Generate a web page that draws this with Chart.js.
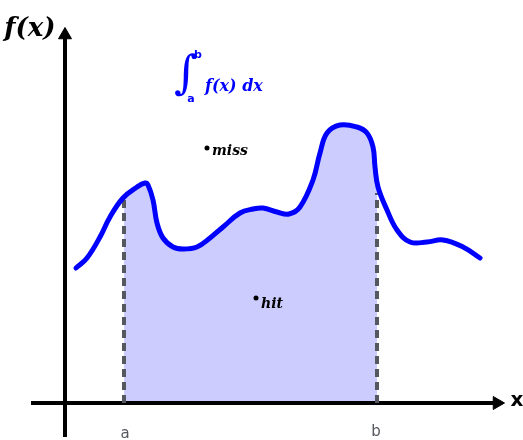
<!DOCTYPE html>
<html>
<head>
<meta charset="utf-8">
<script src="https://cdn.jsdelivr.net/npm/chart.js@4.4.1/dist/chart.umd.min.js"></script>
<style>
  html, body { margin:0; padding:0; background:#fff; }
  #wrap { width:523px; height:440px; position:relative; }
</style>
</head>
<body>
<div id="wrap"><canvas id="mc"></canvas></div>
<script>
// f(x) sampled along the curve (x from the y axis, y up from the x axis)
const curveX = [11, 22, 35, 45, 58, 72, 80, 83, 88, 92, 98, 108, 118, 132, 145, 158, 175, 188, 198, 212, 224, 235, 248, 255, 262, 275, 292, 302, 308, 310, 313, 322, 332, 345, 362, 378, 398, 415];
const curveY = [135, 145, 166, 186, 205, 216, 220, 218, 203, 180, 165, 156, 154, 156, 165, 176, 190, 194, 195, 191, 189, 196, 223, 250, 270, 278, 276, 270, 256, 236, 216, 193, 173, 161, 161, 163, 156, 145];

// integration bounds and f at the bounds
const boundA = 59, boundB = 312;
const fA = 206, fB = 210;

// axis extents
const xAxisFrom = -34, xAxisTo = 428;
const yAxisFrom = -34, yAxisTo = 364;

// sample points
const missPt = { x: 142, y: 255 };
const hitPt = { x: 191, y: 105 };

const BLUE = "#0000ff";
const SHADE = "#ccccff";
const DASH = "#55585e";

const curve = curveX.map((x, i) => ({ x, y: curveY[i] }));

// horizontal gradient with hard stops so only [a, b] gets shaded
function shadeBetween(ctx){
  const chart = ctx.chart;
  const xs = chart.scales.x;
  if(!xs || !chart.chartArea) return "rgba(0,0,0,0)";
  const w = xs.right - xs.left;
  const pa = (xs.getPixelForValue(boundA) - xs.left) / w;
  const pb = (xs.getPixelForValue(boundB) - xs.left) / w;
  const g = chart.ctx.createLinearGradient(xs.left, 0, xs.right, 0);
  g.addColorStop(0, "rgba(204,204,255,0)");
  g.addColorStop(pa, "rgba(204,204,255,0)");
  g.addColorStop(pa, SHADE);
  g.addColorStop(pb, SHADE);
  g.addColorStop(pb, "rgba(204,204,255,0)");
  g.addColorStop(1, "rgba(204,204,255,0)");
  return g;
}

// labels placed in data coordinates
const labels = [
  { text: "f(x)", x: -35, y: 374, font: "bold italic 26px 'DejaVu Serif'", color: "#000", align: "center" },
  { text: "x", x: 452, y: 2, font: "bold 20px 'DejaVu Sans'", color: "#000", align: "center" },
  { text: "a", x: 60, y: -31, font: "15px 'DejaVu Sans'", color: DASH, align: "center" },
  { text: "b", x: 311, y: -29, font: "15px 'DejaVu Sans'", color: DASH, align: "center" },
  { text: "\u222B", x: 121, y: 327, font: "italic 46px 'DejaVu Serif'", color: BLUE, align: "center" },
  { text: "a", x: 126, y: 304, font: "bold 11px 'DejaVu Sans'", color: BLUE, align: "center" },
  { text: "b", x: 133, y: 348, font: "bold 11px 'DejaVu Sans'", color: BLUE, align: "center" },
  { text: "f(x) dx", x: 140, y: 316, font: "bold italic 16px 'DejaVu Serif'", color: BLUE, align: "left" },
  { text: "miss", x: 147, y: 252, font: "bold italic 14px 'DejaVu Serif'", color: "#000", align: "left" },
  { text: "hit", x: 196, y: 99, font: "bold italic 14px 'DejaVu Serif'", color: "#000", align: "left" }
];

const textPlugin = {
  id: "textLabels",
  afterDatasetsDraw(chart){
    const c = chart.ctx, xs = chart.scales.x, ys = chart.scales.y;
    c.save();
    c.textBaseline = "middle";
    labels.forEach(l => {
      c.font = l.font;
      c.fillStyle = l.color;
      c.textAlign = l.align;
      c.fillText(l.text, xs.getPixelForValue(l.x), ys.getPixelForValue(l.y));
    });
    c.restore();
  }
};

const arrowR = 7.5;

new Chart(document.getElementById("mc"), {
  type: "scatter",
  data: {
    datasets: [
      {
        label: "points",
        data: [missPt, hitPt],
        pointRadius: 2.5,
        pointBackgroundColor: "#000",
        pointBorderWidth: 0,
        order: 0
      },
      {
        label: "f",
        data: curve,
        showLine: true,
        borderColor: BLUE,
        borderWidth: 5,
        tension: 0.4,
        pointRadius: 0,
        borderCapStyle: "round",
        borderJoinStyle: "round",
        fill: false,
        order: 1
      },
      {
        label: "x = a",
        data: [{ x: boundA, y: 0 }, { x: boundA, y: fA }],
        showLine: true,
        borderColor: DASH,
        borderWidth: 4,
        borderDash: [8, 5],
        pointRadius: 0,
        order: 2
      },
      {
        label: "x = b",
        data: [{ x: boundB, y: 0 }, { x: boundB, y: fB }],
        showLine: true,
        borderColor: DASH,
        borderWidth: 4,
        borderDash: [8, 5],
        pointRadius: 0,
        order: 2
      },
      {
        label: "x axis",
        data: [{ x: xAxisFrom, y: 0 }, { x: xAxisTo, y: 0 }, { x: xAxisTo + 4, y: 0 }],
        showLine: true,
        borderColor: "#000",
        borderWidth: 4,
        pointStyle: "triangle",
        pointRadius: [0, 0, arrowR],
        pointRotation: 90,
        pointBackgroundColor: "#000",
        pointBorderColor: "#000",
        pointBorderWidth: 1,
        order: 3
      },
      {
        label: "y axis",
        data: [{ x: 0, y: yAxisFrom }, { x: 0, y: yAxisTo }, { x: 0, y: yAxisTo + 4 }],
        showLine: true,
        borderColor: "#000",
        borderWidth: 4,
        pointStyle: "triangle",
        pointRadius: [0, 0, arrowR],
        pointRotation: 0,
        pointBackgroundColor: "#000",
        pointBorderColor: "#000",
        pointBorderWidth: 1,
        order: 3
      },
      {
        label: "area",
        data: curve,
        showLine: true,
        borderWidth: 0,
        borderColor: "rgba(0,0,0,0)",
        tension: 0.4,
        pointRadius: 0,
        fill: "origin",
        backgroundColor: shadeBetween,
        order: 4
      }
    ]
  },
  options: {
    responsive: true,
    maintainAspectRatio: false,
    animation: false,
    layout: { padding: 0, autoPadding: false },
    plugins: { legend: { display: false }, tooltip: { enabled: false } },
    scales: {
      x: { type: "linear", min: -65, max: 458, display: false },
      y: { type: "linear", min: -37, max: 403, display: false }
    }
  },
  plugins: [textPlugin]
});
</script>
</body>
</html>
